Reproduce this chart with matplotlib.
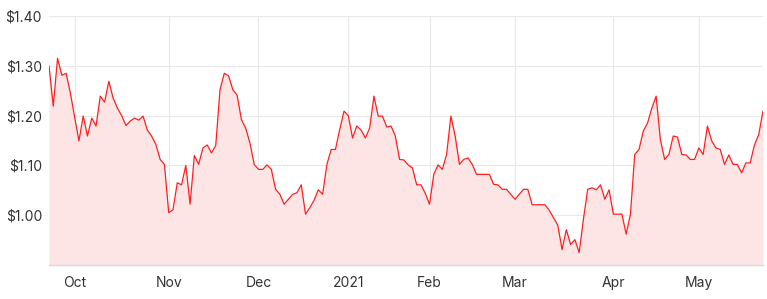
import matplotlib
matplotlib.use("Agg")
import matplotlib.pyplot as plt

# Closing prices by trading day (index 0 = late Sep 2020 ... index 167 = late May 2021)
prices = [
    1.300, 1.219, 1.315, 1.281, 1.285, 1.245, 1.197, 1.149, 1.199, 1.159,
    1.195, 1.179, 1.239, 1.227, 1.269, 1.235, 1.215, 1.200, 1.180, 1.189,
    1.195, 1.191, 1.199, 1.171, 1.159, 1.142, 1.112, 1.102, 1.005, 1.011,
    1.065, 1.061, 1.100, 1.022, 1.120, 1.102, 1.135, 1.141, 1.125, 1.140,
    1.252, 1.285, 1.280, 1.252, 1.241, 1.192, 1.175, 1.145, 1.102, 1.092,
    1.092, 1.101, 1.092, 1.052, 1.042, 1.022, 1.032, 1.042, 1.045, 1.061,
    1.002, 1.015, 1.030, 1.051, 1.042, 1.102, 1.132, 1.132, 1.172, 1.209,
    1.200, 1.155, 1.179, 1.171, 1.155, 1.175, 1.239, 1.199, 1.199, 1.177,
    1.179, 1.159, 1.112, 1.111, 1.101, 1.095, 1.061, 1.061, 1.044, 1.022,
    1.082, 1.101, 1.092, 1.122, 1.199, 1.159, 1.102, 1.112, 1.115, 1.102,
    1.082, 1.082, 1.082, 1.082, 1.062, 1.061, 1.052, 1.052, 1.042, 1.032,
    1.042, 1.052, 1.052, 1.021, 1.021, 1.021, 1.021, 1.010, 0.995, 0.980,
    0.931, 0.971, 0.941, 0.951, 0.925, 0.992, 1.052, 1.055, 1.051, 1.061,
    1.032, 1.051, 1.002, 1.002, 1.002, 0.962, 1.002, 1.122, 1.132, 1.169,
    1.185, 1.215, 1.239, 1.152, 1.112, 1.122, 1.159, 1.157, 1.122, 1.121,
    1.112, 1.112, 1.135, 1.122, 1.179, 1.149, 1.135, 1.132, 1.102, 1.121,
    1.102, 1.102, 1.085, 1.105, 1.105, 1.141, 1.162, 1.209,
]

# Month tick labels and the trading-day index where each month starts
month_labels = ["Oct", "Nov", "Dec", "2021", "Feb", "Mar", "Apr", "May"]
month_starts = [6, 28, 49, 70, 89, 109, 132, 152]

y_ticks = [1.00, 1.10, 1.20, 1.30, 1.40]
y_labels = ["$1.00", "$1.10", "$1.20", "$1.30", "$1.40"]

plt.rcParams["font.family"] = ["Inter", "DejaVu Sans"]

fig = plt.figure(figsize=(7.67, 2.99), dpi=100)
ax = fig.add_axes([49 / 767, 34 / 299, 714 / 767, 249 / 299])

x = list(range(len(prices)))
ymin, ymax = 0.90, 1.40
ax.fill_between(x, prices, ymin, color="#fde5e5", linewidth=0, zorder=1)
ax.plot(x, prices, color="#ff1f1f", linewidth=0.9, zorder=3)

ax.set_xlim(0, len(prices) - 1)
ax.set_ylim(ymin, ymax)

ax.set_yticks(y_ticks)
ax.set_yticklabels(y_labels)
ax.set_xticks(month_starts)
ax.set_xticklabels(month_labels)

ax.grid(True, color="#e8e8e8", linewidth=0.8, zorder=0)
ax.set_axisbelow(True)

for side in ["top", "right", "left"]:
    ax.spines[side].set_visible(False)
ax.spines["bottom"].set_color("#d9d9d9")
ax.spines["bottom"].set_linewidth(1.0)

ax.tick_params(axis="both", length=0, labelsize=10, colors="#333333")
ax.tick_params(axis="y", pad=5)
ax.tick_params(axis="x", pad=8)

fig.savefig("out.png", dpi=100, facecolor="white")
